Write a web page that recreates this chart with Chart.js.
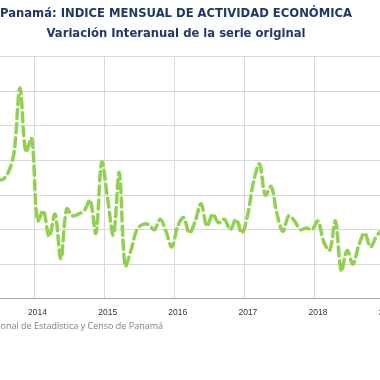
<!DOCTYPE html>
<html lang="es">
<head>
  <meta charset="UTF-8">
  <title>Panamá: IMAE variación interanual</title>
  <script src="https://cdn.jsdelivr.net/npm/chart.js"></script>
  <style>
    html, body {
      margin: 0;
      padding: 0;
      width: 380px;
      height: 380px;
      overflow: hidden;
      background: #fff;
    }

    #wrap {
      position: absolute;
      left: -54px;
      top: 0;
      width: 460px;
      height: 332px;
    }

    #fuente {
      position: absolute;
      right: 217px;
      top: 319px;
      font-family: "Open Sans", sans-serif;
      font-size: 9px;
      color: #7f7f7f;
      white-space: nowrap;
    }
  </style>
</head>
<body>
  <div id="wrap"><canvas id="imae" width="460" height="332"></canvas></div>
  <div id="fuente">Fuente: Instituto Nacional de Estadística y Censo de Panamá</div>

  <script>
    // variación interanual (%), enero..diciembre, null = fuera de la vista
    const y2013 = [null, null, null, null, null, 6.9, 6.9, 7.3, 8.5, 12.2, 8.5, 9.3];
    const y2014 = [4.5, 5.1, 3.6, 4.9, 2.3, 5.2, 4.8, 4.9, 5.1, 5.7, 3.8, 7.9];
    const y2015 = [5.8, 3.7, 7.3, 1.9, 2.8, 4.0, 4.3, 4.3, 4.0, 4.6, 3.9, 3.0];
    const y2016 = [4.2, 4.7, 3.8, 4.5, 5.5, 4.2, 4.9, 4.4, 4.6, 4.0, 4.6, 3.8];
    const y2017 = [4.9, 6.8, 7.8, 6.0, 6.5, 4.9, 3.9, 4.8, 4.5, 4.0, 4.1, 4.0];
    const y2018 = [4.5, 3.3, 2.8, 4.5, 1.6, 2.8, 2.0, 3.1, 3.8, 3.0, 3.6, 4.0];

    const years = [2013, 2014, 2015, 2016, 2017, 2018];
    const byYear = [y2013, y2014, y2015, y2016, y2017, y2018];

    // each month sits in the middle of its slot, year gridlines fall between Dec and Jan
    const points = [];
    years.forEach((yr, k) => {
      byYear[k].forEach((v, m) => {
        if (v !== null) points.push({ x: yr + (m + 0.5) / 12, y: v });
      });
    });

    const titleFont = { family: "'DejaVu Sans', sans-serif", size: 11.6, weight: 'bold' };

    new Chart(document.getElementById('imae'), {
      type: 'line',
      data: {
        datasets: [{
          label: 'IMAE',
          data: points,
          borderColor: '#92D050',
          borderWidth: 3.5,
          borderDash: [9, 5],
          borderCapStyle: 'round',
          pointRadius: 0,
          tension: 0.35,
          fill: false
        }]
      },
      options: {
        responsive: false,
        animation: false,
        layout: { padding: { top: 0, bottom: 5, left: 0, right: 0 } },
        plugins: {
          legend: { display: false },
          tooltip: { enabled: false },
          title: {
            display: true,
            text: 'Panamá: INDICE MENSUAL DE ACTIVIDAD ECONÓMICA',
            color: '#1F3864',
            font: titleFont,
            padding: { top: 7, bottom: 6 }
          },
          subtitle: {
            display: true,
            text: 'Variación Interanual de la serie original',
            color: '#1F3864',
            font: titleFont,
            padding: { top: 0, bottom: 16 }
          }
        },
        scales: {
          x: {
            type: 'linear',
            min: 2012.7642,
            max: 2019.2983,
            ticks: {
              stepSize: 1,
              includeBounds: false,
              autoSkip: false,
              maxRotation: 0,
              padding: 9,
              labelOffset: 3,
              color: '#333333',
              font: { family: "'Liberation Sans', sans-serif", size: 8.5 },
              callback: (v) => String(v)
            },
            grid: { color: '#D9D9D9', drawTicks: false },
            border: { color: '#A6A6A6', width: 1 }
          },
          y: {
            min: 0,
            max: 14,
            ticks: { stepSize: 2, display: false },
            grid: { color: '#D9D9D9', drawTicks: false },
            border: { display: false }
          }
        }
      }
    });
  </script>
</body>
</html>
